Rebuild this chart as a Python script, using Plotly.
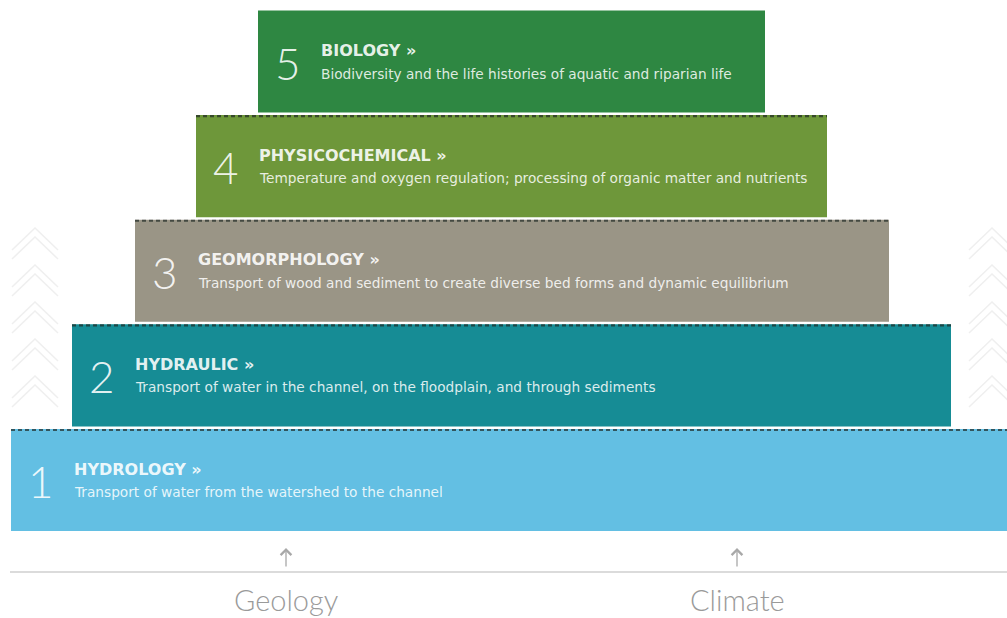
import plotly.graph_objects as go

# ---- data ----
levels = [1, 2, 3, 4, 5]
numbers = ["1", "2", "3", "4", "5"]
titles = ["HYDROLOGY »", "HYDRAULIC »", "GEOMORPHOLOGY »", "PHYSICOCHEMICAL »", "BIOLOGY »"]
descriptions = [
    "Transport of water from the watershed to the channel",
    "Transport of water in the channel, on the floodplain, and through sediments",
    "Transport of wood and sediment to create diverse bed forms and dynamic equilibrium",
    "Temperature and oxygen regulation; processing of organic matter and nutrients",
    "Biodiversity and the life histories of aquatic and riparian life",
]
bar_start = [11, 72, 135, 196, 258]
bar_end = [1010, 951, 889, 827, 765]
drivers = ["Geology", "Climate"]
driver_pos = [286, 737]

# ---- styles ----
colors = ["#63bfe3", "#168c95", "#9a9586", "#6e973a", "#2e8742"]
W, H = 1007, 618
BAR_W = 0.975
# y axis: level 1 centre at pixel 480, level 5 centre at pixel 61.5
PX_PER_LEVEL = (480 - 61.5) / 4
y_top = 1 + 480 / PX_PER_LEVEL
y_bot = 1 - (H - 480) / PX_PER_LEVEL

def dy(px):
    return px / PX_PER_LEVEL

def paper_x(px):
    return px / W

def paper_y(py):
    return 1 - py / H

widths = [e - s for s, e in zip(bar_start, bar_end)]

fig = go.Figure()
fig.add_trace(go.Bar(
    y=levels, x=widths, base=bar_start, orientation="h",
    width=BAR_W, marker=dict(color=colors, line=dict(width=0)),
    hoverinfo="skip", showlegend=False,
))

# dashed top edges for levels 1-4
for lv, s, e in zip(levels, bar_start, bar_end):
    if lv == 5:
        continue
    yy = lv + BAR_W / 2 - dy(1)
    fig.add_trace(go.Scatter(
        x=[s, e], y=[yy, yy], mode="lines",
        line=dict(color="rgba(30,40,35,0.7)", width=2.2, dash="4px,3px"),
        hoverinfo="skip", showlegend=False,
    ))

ann = []
for lv, num, t, d, s in zip(levels, numbers, titles, descriptions, bar_start):
    ann.append(dict(x=s + 30, y=lv - dy(1), xref="x", yref="y", text=num, showarrow=False,
                    xanchor="center", yanchor="middle",
                    font=dict(family="Lato, Roboto, sans-serif", size=44, weight=300,
                              color="rgba(255,255,255,0.9)")))
    ann.append(dict(x=s + 61, y=lv + dy(11), xref="x", yref="y", text=t, showarrow=False,
                    xanchor="left", yanchor="middle",
                    font=dict(family="DejaVu Sans", size=16, weight="bold",
                              color="rgba(255,255,255,0.9)")))
    ann.append(dict(x=s + 61, y=lv - dy(12), xref="x", yref="y", text=d, showarrow=False,
                    xanchor="left", yanchor="middle",
                    font=dict(family="DejaVu Sans", size=13.7,
                              color="rgba(255,255,255,0.85)")))

shapes = []
# baseline
shapes.append(dict(type="line", xref="paper", yref="paper",
                   x0=paper_x(10), x1=paper_x(1007), y0=paper_y(572), y1=paper_y(572),
                   line=dict(color="#cfcfcf", width=1.5)))

# faint chevrons on the sides
chev_color = "#efefef"
for cx, apexes in [(35, [228, 265, 302, 339, 376]), (992, [228, 265, 302, 339, 376])]:
    for ay in apexes:
        for off in (0, 9):
            pts = [(cx - 23, ay + 22 + off), (cx, ay + off), (cx + 23, ay + 22 + off)]
            path = "M {} {} L {} {} L {} {}".format(
                paper_x(pts[0][0]), paper_y(pts[0][1]),
                paper_x(pts[1][0]), paper_y(pts[1][1]),
                paper_x(pts[2][0]), paper_y(pts[2][1]))
            shapes.append(dict(type="path", xref="paper", yref="paper", path=path,
                               line=dict(color=chev_color, width=1.5)))

for name, xp in zip(drivers, driver_pos):
    ann.append(dict(x=paper_x(xp), y=paper_y(548), xref="paper", yref="paper",
                    ax=0, ay=20, text="", showarrow=True, arrowhead=4, arrowsize=1.6,
                    arrowwidth=1.3, arrowcolor="#a8a8a8"))
    ann.append(dict(x=paper_x(xp), y=paper_y(599), xref="paper", yref="paper",
                    text=name, showarrow=False, xanchor="center", yanchor="middle",
                    font=dict(family="Lato, Roboto, sans-serif", size=29, weight=300,
                              color="#9a9a9a")))

fig.update_layout(
    width=W, height=H, margin=dict(l=0, r=0, t=0, b=0),
    paper_bgcolor="white", plot_bgcolor="white",
    xaxis=dict(range=[0, W], visible=False, fixedrange=True),
    yaxis=dict(range=[y_bot, y_top], visible=False, fixedrange=True),
    annotations=ann, shapes=shapes, showlegend=False,
)

fig.write_html("out.html", config={"displayModeBar": False})

# remove the browser's default page margin so the figure fills the window
with open("out.html", "r", encoding="utf-8") as f:
    html = f.read()
html = html.replace("<head>", "<head><style>html,body{margin:0;padding:0;overflow:hidden;}</style>", 1)
with open("out.html", "w", encoding="utf-8") as f:
    f.write(html)
